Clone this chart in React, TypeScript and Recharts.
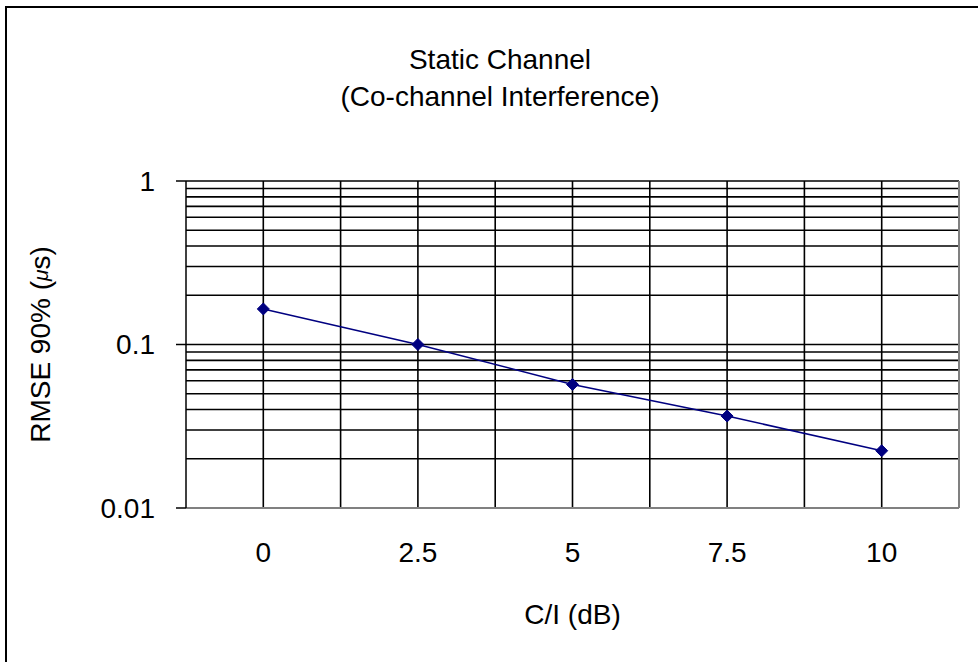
import { LineChart, Line, XAxis, YAxis, ReferenceLine, Label } from 'recharts'

const ciDb = [0, 2.5, 5, 7.5, 10]
const rmse90 = [0.165, 0.1, 0.057, 0.0365, 0.0224]

const xTicks = [0, 2.5, 5, 7.5, 10]
const yTicks = [0.01, 0.1, 1]
const xGrid = [0, 1.25, 2.5, 3.75, 5, 6.25, 7.5, 8.75, 10]
const yGrid = [
  0.02, 0.03, 0.04, 0.05, 0.06, 0.07, 0.08, 0.09, 0.1,
  0.2, 0.3, 0.4, 0.5, 0.6, 0.7, 0.8, 0.9, 1,
]

const data = ciDb.map((x, i) => ({ x, y: rmse90[i] }))

const FONT = '"Liberation Sans", Arial, sans-serif'
const NAVY = '#000080'
const FS = 28

function Diamond(props: any) {
  const { cx, cy } = props
  if (cx == null || cy == null) return null
  const r = 6
  return <path d={`M${cx},${cy - r}L${cx + r},${cy}L${cx},${cy + r}L${cx - r},${cy}Z`} fill={NAVY} stroke={NAVY} />
}

function YTitle(props: any) {
  const { viewBox } = props
  const x = 40
  const y = viewBox.y + viewBox.height / 2
  return (
    <text x={x} y={y} transform={`rotate(-90 ${x} ${y})`} textAnchor="middle" dominantBaseline="central"
      fontFamily={FONT} fontSize={FS} fill="#000">
      RMSE 90% (<tspan fontSize={21} fontStyle="italic">μ</tspan>s)
    </text>
  )
}

export default function App() {
  return (
    <div style={{ position: 'absolute', left: 0, top: 0, width: 978, height: 662, background: '#fff', fontFamily: FONT }}>
      <div style={{ position: 'absolute', left: 5, top: 6, width: 1000, height: 700, borderTop: '2px solid #000', borderLeft: '2px solid #000' }} />
      <div style={{ position: 'absolute', left: 0, top: 41, width: 1000, textAlign: 'center', fontSize: FS, lineHeight: '37px', color: '#000' }}>
        Static Channel
        <br />
        (Co-channel Interference)
      </div>
      <div style={{ position: 'absolute', left: 0, top: 0 }}>
        <LineChart width={978} height={662} data={data} margin={{ top: 181, right: 19, bottom: 0, left: 0 }}>
          <XAxis dataKey="x" type="number" domain={[-1.25, 11.25]} ticks={xTicks} interval={0}
            height={154} tickLine={false} tickSize={0} tickMargin={34}
            axisLine={{ stroke: '#808080', strokeWidth: 2 }}
            tick={{ fill: '#000', fontSize: FS, fontFamily: FONT }}>
            <Label value="C/I (dB)" position="insideBottom" offset={38} fill="#000" fontSize={FS} fontFamily={FONT} />
          </XAxis>
          <YAxis scale="log" type="number" domain={[0.01, 1]} ticks={yTicks} allowDataOverflow
            width={186} tickSize={10} tickMargin={21}
            tickFormatter={(v: number) => String(v)}
            axisLine={{ stroke: '#000', strokeWidth: 1.5 }}
            tickLine={{ stroke: '#000', strokeWidth: 1.5 }}
            tick={{ fill: '#000', fontSize: FS, fontFamily: FONT }}>
            <Label content={<YTitle />} />
          </YAxis>
          {yGrid.map((v) => (
            <ReferenceLine key={'h' + v} y={v} stroke="#000" strokeWidth={1.6} />
          ))}
          {xGrid.map((v) => (
            <ReferenceLine key={'v' + v} x={v} stroke="#000" strokeWidth={1.6} />
          ))}
          <ReferenceLine x={11.25} stroke="#808080" strokeWidth={2} />
          <Line dataKey="y" stroke={NAVY} strokeWidth={1.5} dot={<Diamond />} activeDot={false}
            isAnimationActive={false} />
        </LineChart>
      </div>
    </div>
  )
}
